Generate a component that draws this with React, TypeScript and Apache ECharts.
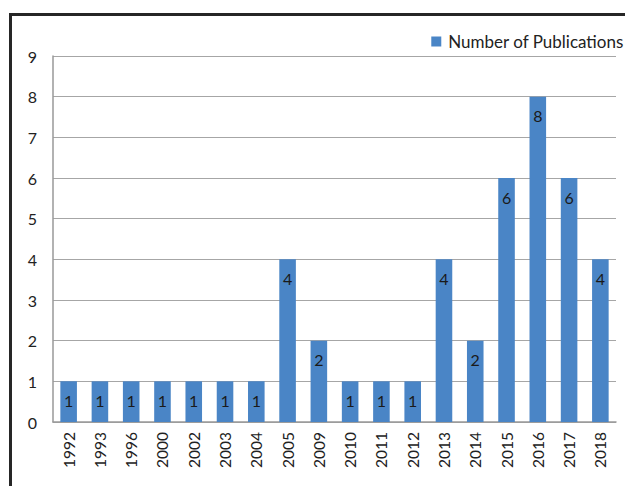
import React, { useEffect, useRef } from "react";
import * as echarts from "echarts";

const years = ["1992","1993","1996","2000","2002","2003","2004","2005","2009","2010","2011","2012","2013","2014","2015","2016","2017","2018"];
const publications = [1,1,1,1,1,1,1,4,2,1,1,1,4,2,6,8,6,4];
const seriesName = "Number of Publications";

export default function App() {
  const ref = useRef<HTMLDivElement>(null);
  useEffect(() => {
    document.body.style.margin = "0";
    const chart = echarts.init(ref.current!, null, { renderer: "svg" });
    const font = "Lato, 'Open Sans', sans-serif";
    chart.setOption({
      animation: false,
      backgroundColor: "#ffffff",
      graphic: [
        { type: "rect", shape: { x: 10.5, y: 14.5, width: 700, height: 600 }, style: { fill: "none", stroke: "#262626", lineWidth: 3 }, silent: true },
      ],
      legend: {
        right: -4,
        top: 28,
        itemWidth: 10,
        itemHeight: 10,
        itemGap: 5,
        textStyle: { fontFamily: font, fontSize: 17, color: "#222", padding: [0, 0, 0, 2] },
        data: [{ name: seriesName, icon: "rect" }],
      },
      grid: { left: 53, right: 9, top: 56, bottom: 64, containLabel: false },
      xAxis: {
        type: "category",
        data: years,
        axisLine: { lineStyle: { color: "#999", width: 1.5 } },
        axisTick: { show: false },
        axisLabel: { rotate: 90, fontFamily: font, fontSize: 15.5, color: "#222", margin: 10, interval: 0 },
      },
      yAxis: {
        type: "value",
        min: 0,
        max: 9,
        interval: 1,
        axisLine: { show: true, lineStyle: { color: "#999", width: 1.5 } },
        axisTick: { show: false },
        splitLine: { lineStyle: { color: "#a6a6a6", width: 1.2 } },
        axisLabel: { fontFamily: font, fontSize: 16, color: "#222", margin: 16 },
      },
      series: [
        {
          name: seriesName,
          type: "bar",
          data: publications,
          barWidth: "53%",
          itemStyle: { color: "#4a85c6" },
          label: { show: true, position: "insideTop", distance: 11, fontFamily: font, fontSize: 16, color: "#1a1a1a" },
        },
      ],
    });
    return () => chart.dispose();
  }, []);
  return <div ref={ref} style={{ width: 625, height: 486 }} />;
}
